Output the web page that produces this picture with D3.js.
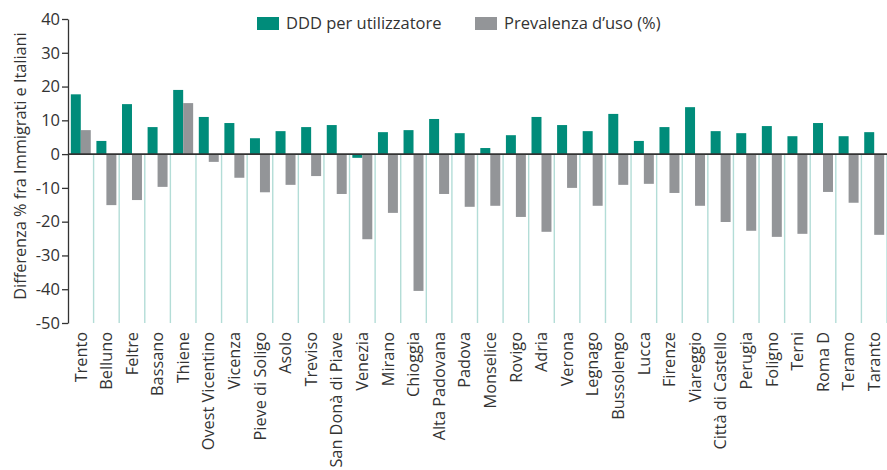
<!DOCTYPE html>
<html><head><meta charset="utf-8">
<script src="https://cdn.jsdelivr.net/npm/d3@7"></script>
<style>body{margin:0;background:#fff}svg{display:block}text{font-family:"Open Sans",sans-serif;fill:#333}</style>
</head><body><svg id="c" width="887" height="470"></svg>
<script>
const categories = ["Trento","Belluno","Feltre","Bassano","Thiene","Ovest Vicentino","Vicenza","Pieve di Soligo","Asolo","Treviso","San Donà di Piave","Venezia","Mirano","Chioggia","Alta Padovana","Padova","Monselice","Rovigo","Adria","Verona","Legnago","Bussolengo","Lucca","Firenze","Viareggio","Città di Castello","Perugia","Foligno","Terni","Roma D","Teramo","Taranto"];
const dddPerUtilizzatore = [17.7,3.9,14.8,8.0,19.0,11.0,9.2,4.7,6.8,8.0,8.6,-1.1,6.5,7.1,10.4,6.2,1.8,5.6,11.0,8.6,6.8,11.9,3.9,8.0,13.9,6.8,6.2,8.3,5.3,9.2,5.3,6.5];
const prevalenzaUso = [7.1,-15.1,-13.6,-9.7,15.1,-2.3,-7.0,-11.3,-9.1,-6.5,-11.8,-25.2,-17.4,-40.5,-11.8,-15.6,-15.3,-18.6,-23.0,-10.0,-15.3,-9.1,-8.8,-11.5,-15.3,-20.1,-22.7,-24.5,-23.6,-11.2,-14.4,-23.9];
const yTicks = [40,30,20,10,0,-10,-20,-30,-40,-50];
const seriesNames = ["DDD per utilizzatore","Prevalenza d\u2019uso (%)"];
const colors = ["#008c7a","#939598"];
const yTitle = "Differenza % fra Immigrati e Italiani";

const svg = d3.select("#c");
const mLeft = 68, mRight = 887, mTop = 19, mBottom = 323;
const x = d3.scaleBand().domain(categories).range([mLeft, mRight]).padding(0);
const y = d3.scaleLinear().domain([-50, 40]).range([mBottom, mTop]);
const bw = x.bandwidth() * 0.39;

// separators
const seps = categories.map((c,i)=>x(c)).concat([mRight]).slice(1);
svg.append("g").selectAll("line").data(seps).join("line")
  .attr("x1", d=>d).attr("x2", d=>d).attr("y1", y(0)).attr("y2", mBottom)
  .attr("stroke", "#b3ddd7").attr("stroke-width", 1.4);

const g = svg.append("g");
const series = [dddPerUtilizzatore, prevalenzaUso];
series.forEach((vals, si) => {
  g.append("g").selectAll("rect").data(vals).join("rect")
    .attr("x", (d,i) => x(categories[i]) + x.bandwidth()/2 - bw + si*bw)
    .attr("width", bw)
    .attr("y", d => y(Math.max(0,d)))
    .attr("height", d => Math.abs(y(d)-y(0)))
    .attr("fill", colors[si]);
});

// zero line
svg.append("line").attr("x1", mLeft).attr("x2", mRight).attr("y1", y(0)).attr("y2", y(0))
  .attr("stroke", "#333").attr("stroke-width", 1.6);

// y axis
const ya = svg.append("g").attr("transform", `translate(${mLeft},0)`)
  .call(d3.axisLeft(y).tickValues(yTicks).tickFormat(d => String(d)).tickSize(6).tickPadding(2).tickSizeOuter(0));
ya.select(".domain").attr("stroke", "#333").attr("stroke-width", 1.3);
ya.selectAll(".tick line").attr("stroke", "#333").attr("stroke-width", 1.3);
ya.selectAll("text").style("font-size", "16.5px").style("font-family", "'Open Sans',sans-serif").attr("fill", "#333");

// x labels
svg.append("g").selectAll("text").data(categories).join("text")
  .attr("transform", d => `translate(${x(d)+x.bandwidth()/2},332) rotate(-90)`)
  .attr("text-anchor", "end").attr("dy", "0.35em")
  .style("font-size", "16.3px").text(d => d);

// y title
svg.append("text").attr("transform", "translate(20,166) rotate(-90)")
  .attr("text-anchor", "middle").attr("dy", "0.35em").style("font-size", "16.3px").text(yTitle);

// legend
const legX = [257, 475];
seriesNames.forEach((n, i) => {
  svg.append("rect").attr("x", legX[i]).attr("y", 17).attr("width", 22).attr("height", 13).attr("fill", colors[i]);
  svg.append("text").attr("x", legX[i] + 29).attr("y", 23.5).attr("dy", "0.35em")
    .style("font-size", "16.5px").text(n);
});
</script></body></html>
